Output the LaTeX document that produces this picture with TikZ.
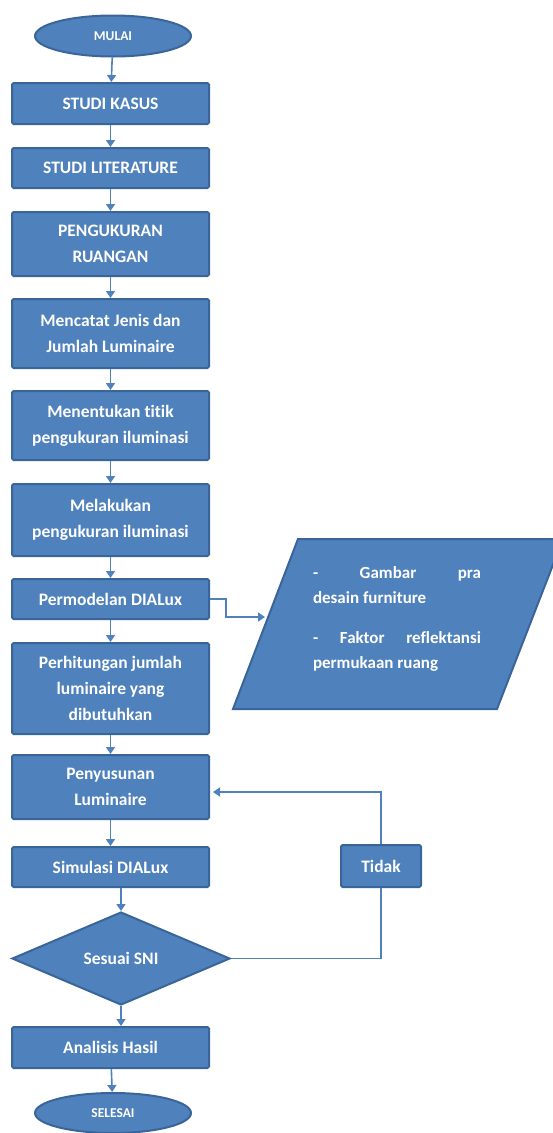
\documentclass[tikz,border=0pt]{standalone}
\usepackage{fontspec}
\setmainfont{Carlito}[Ligatures=NoCommon]
\usetikzlibrary{shapes.geometric,arrows.meta}

\definecolor{birumuda}{HTML}{4F81BD}
\definecolor{birutua}{HTML}{3A6598}

\tikzset{
  proses/.style={draw=birutua, fill=birumuda, line width=2pt, rounded corners=1.5pt,
    minimum width=197pt, inner sep=0pt, text=white, align=center,
    font=\fontsize{17.5}{26}\selectfont\bfseries},
  terminal/.style={ellipse, draw=birutua, fill=birumuda, line width=2pt,
    minimum width=156pt, minimum height=41pt, inner sep=0pt, text=white,
    font=\fontsize{13.5}{15}\selectfont\bfseries},
  keputusan/.style={diamond, draw=birutua, fill=birumuda, line width=2pt,
    minimum width=218pt, minimum height=93pt, inner sep=0pt, text=white,
    font=\fontsize{17.5}{26}\selectfont\bfseries},
  panah/.style={-{Triangle[length=7pt,width=9pt]}, draw=birumuda, line width=1.6pt},
  garis/.style={draw=birumuda, line width=1.6pt},
}

\begin{document}
\begin{tikzpicture}[x=1pt,y=-1pt]
\useasboundingbox (0,0) rectangle (552,1133);

% alur utama
\node[terminal] (mulai) at (113,36) {MULAI};
\node[proses, minimum height=41pt] (kasus) at (110.5,103.5) {STUDI KASUS};
\node[proses, minimum height=40pt] (literatur) at (110.5,168) {STUDI LITERATURE};
\node[proses, minimum height=64pt] (ukur) at (110.5,244) {PENGUKURAN\\RUANGAN};
\node[proses, minimum height=69pt] (catat) at (110.5,333.5) {Mencatat Jenis dan\\Jumlah Luminaire};
\node[proses, minimum height=69pt] (titik) at (110.5,425.5) {Menentukan titik\\pengukuran iluminasi};
\node[proses, minimum height=72pt] (lakukan) at (110.5,520) {Melakukan\\pengukuran iluminasi};
\node[proses, minimum height=40pt] (model) at (110.5,599) {Permodelan DIALux};
\node[proses, minimum height=91pt] (hitung) at (110.5,688.5) {Perhitungan jumlah\\luminaire yang\\dibutuhkan};
\node[proses, minimum height=64pt] (susun) at (110.5,787) {Penyusunan\\Luminaire};
\node[proses, minimum height=40pt] (simulasi) at (110.5,867) {Simulasi DIALux};
\node[keputusan] (sni) at (121,958.5) {Sesuai SNI};
\node[proses, minimum height=41pt] (analisis) at (110.5,1047.5) {Analisis Hasil};
\node[terminal, minimum height=40pt] (selesai) at (113,1113) {SELESAI};

\node[proses, minimum width=80pt, minimum height=42pt] (tidak) at (381,866) {Tidak};

% data masukan
\draw[birutua, fill=birumuda, line width=2pt] (298,539) -- (563,539) -- (497,709) -- (233,709) -- cycle;
\node[text width=168pt, align=justify, text=white, font=\fontsize{17}{25}\selectfont\bfseries,
  inner sep=0pt] (data) at (397,619)
  {- Gambar pra\linebreak desain furniture\par\vspace{15pt}- Faktor reflektansi\linebreak permukaan ruang};
\coordinate (masuk) at (265,617);

\draw[panah] (mulai) -- (kasus);
\draw[panah] (kasus) -- (literatur);
\draw[panah] (literatur) -- (ukur);
\draw[panah] (ukur) -- (catat);
\draw[panah] (catat) -- (titik);
\draw[panah] (titik) -- (lakukan);
\draw[panah] (lakukan) -- (model);
\draw[panah] (model) -- (hitung);
\draw[panah] (hitung) -- (susun);
\draw[panah] (susun) -- (simulasi);
\draw[panah] (simulasi.south -| sni.north) -- (sni.north);
\draw[panah] (sni.south) -- (sni.south |- analisis.north);
\draw[panah] (analisis) -- (selesai);

\draw[panah] (model.east) -- ++(16,0) |- (masuk);

% kembali jika tidak sesuai
\draw[garis] (sni.east) -| (tidak.south);
\draw[panah, shorten >=3pt] (tidak.north) |- ([yshift=-5pt]susun.east);
\end{tikzpicture}
\end{document}
